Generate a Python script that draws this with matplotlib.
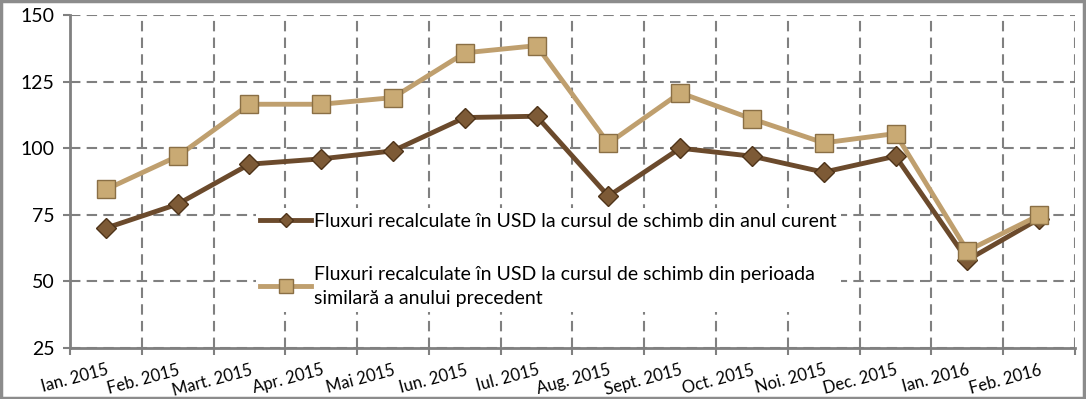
import numpy as np
import matplotlib
matplotlib.use("Agg")
import matplotlib.pyplot as plt
from matplotlib.patches import Rectangle

plt.rcParams['font.family'] = ['Lato', 'DejaVu Sans']

# Category labels and the two series
months = ["Ian. 2015", "Feb. 2015", "Mart. 2015", "Apr. 2015", "Mai 2015",
          "Iun. 2015", "Iul. 2015", "Aug. 2015", "Sept. 2015", "Oct. 2015",
          "Noi. 2015", "Dec. 2015", "Ian. 2016", "Feb. 2016"]
current = [70, 79, 94, 96, 99, 111.5, 112, 82, 100, 97, 91, 97, 58, 73.5]
previous = [84.5, 97, 116.5, 116.5, 119, 135.8, 138.5, 101.8, 120.8, 111,
            102, 105.5, 61.5, 74.8]
label_cur = "Fluxuri recalculate în USD la cursul de schimb din anul curent"
label_prev = ("Fluxuri recalculate în USD la cursul de schimb din perioada\n"
              "similară a anului precedent")

dark = "#6b4a2c"
light = "#bf9f6e"
grid_c = "#808080"

fig = plt.figure(figsize=(10.86, 3.99), dpi=100)
ax = fig.add_axes([70 / 1086, 1 - 348 / 399, 1005 / 1086, 333 / 399])

x = np.arange(len(months))
ax.plot(x, current, color=dark, lw=3.5, marker="D", ms=10,
        markerfacecolor="#7d5a36", markeredgecolor="#4e3319", markeredgewidth=1,
        label=label_cur, zorder=3)
ax.plot(x, previous, color=light, lw=3.5, marker="s", ms=12.5,
        markerfacecolor="#c9aa74", markeredgecolor="#8a6f45", markeredgewidth=1,
        label=label_prev, zorder=3)

ax.set_xlim(-0.5, len(months) - 0.5)
ax.set_ylim(25, 150)
ax.set_yticks([25, 50, 75, 100, 125, 150])

ax.set_xticks(x)
ax.set_xticklabels(months, rotation=15, ha="right", va="top",
                   rotation_mode="anchor", fontsize=12)
ax.set_xticks(np.arange(-0.5, len(months)), minor=True)
ax.tick_params(axis="x", which="major", length=0, pad=10)
ax.tick_params(axis="x", which="minor", length=5, color=grid_c, width=1.5)
ax.tick_params(axis="y", length=5, color=grid_c, width=1.5, labelsize=14, pad=6)

ax.grid(True, axis="y", which="major", ls=(0, (5, 3)), color=grid_c, lw=1.5)
ax.grid(True, axis="x", which="minor", ls=(0, (5, 3)), color=grid_c, lw=1.5)
ax.grid(False, axis="x", which="major")

for s in ["top", "right"]:
    ax.spines[s].set_visible(False)
for s in ["left", "bottom"]:
    ax.spines[s].set_color(grid_c)
    ax.spines[s].set_linewidth(2)

leg = ax.legend(loc="upper left", bbox_to_anchor=(0.175, 0.45), frameon=True,
                fontsize=14, handlelength=2.6, handletextpad=0.15,
                labelspacing=1.85, borderpad=0.25, fancybox=False, markerscale=0.75)
leg.get_frame().set_facecolor("white")
leg.get_frame().set_edgecolor("none")
leg.get_frame().set_alpha(1)
leg.set_zorder(4)
for t in leg.get_texts():
    t.set_linespacing(1.5)

# outer grey frame
fig.patches.append(Rectangle((0.001, 0.002), 0.997, 0.995, transform=fig.transFigure,
                             fill=False, edgecolor="#8c8c8c", lw=2.5))

fig.savefig("out.png", dpi=100)
